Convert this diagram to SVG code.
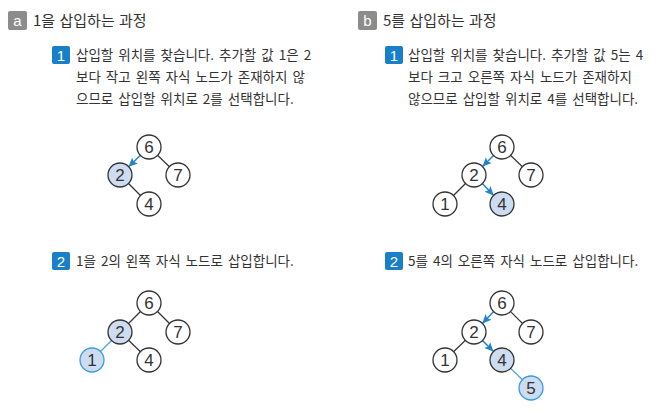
<svg xmlns="http://www.w3.org/2000/svg" width="658" height="419" viewBox="0 0 658 419">
<defs>
<style>
.t{font-family:"Noto Sans CJK KR","Liberation Sans",sans-serif;fill:#333;}
.h{font-size:15px;word-spacing:1px;}
.s{font-size:13.5px;word-spacing:2px;}
.lab{font-family:"Liberation Sans",sans-serif;fill:#fff;text-anchor:middle;}
.n circle{fill:#fff;stroke:#333;stroke-width:1.3;}
.n.hl circle{fill:#cddcf0;}
.n.new circle{fill:#cddcf0;stroke:#3a9be0;}
.n text{font-family:"Liberation Sans",sans-serif;font-size:17px;fill:#333;text-anchor:middle;}
.e{stroke:#333;stroke-width:1.2;}
.eb{stroke:#4aa6de;stroke-width:1.2;}
.ar{stroke:#1f82cc;stroke-width:1.5;fill:none;}
</style>
<marker id="ah" markerUnits="userSpaceOnUse" markerWidth="10" markerHeight="10" viewBox="0 0 10 10" refX="9" refY="5" orient="auto">
<path d="M0,0.8 L9,5 L0,9.2 L2,5 Z" fill="#1f82cc"/>
</marker>
</defs>
<rect width="658" height="419" fill="#fff"/>

<!-- headers -->
<g id="header-a">
<rect x="8" y="11" width="19" height="19" rx="2" fill="#8c8c8c"/>
<text class="lab" x="17.5" y="26" font-size="15">a</text>
<text class="t h" x="33" y="26">1을 삽입하는 과정</text>
</g>
<g id="header-b">
<rect x="358" y="11" width="19" height="19" rx="2" fill="#8c8c8c"/>
<text class="lab" x="367.5" y="26" font-size="15">b</text>
<text class="t h" x="383" y="26">5를 삽입하는 과정</text>
</g>

<!-- step texts -->
<g id="step-a1">
<rect x="52" y="46" width="18" height="18" rx="2" fill="#1a7fc9"/>
<text class="lab" x="61" y="61" font-size="15">1</text>
<text class="t s" x="76" y="60">삽입할 위치를 찾습니다. 추가할 값 1은 2</text>
<text class="t s" x="76" y="82">보다 작고 왼쪽 자식 노드가 존재하지 않</text>
<text class="t s" x="76" y="104">으므로 삽입할 위치로 2를 선택합니다.</text>
</g>
<g id="step-b1">
<rect x="385" y="46" width="18" height="18" rx="2" fill="#1a7fc9"/>
<text class="lab" x="394" y="61" font-size="15">1</text>
<text class="t s" x="408" y="60">삽입할 위치를 찾습니다. 추가할 값 5는 4</text>
<text class="t s" x="408" y="82">보다 크고 오른쪽 자식 노드가 존재하지</text>
<text class="t s" x="408" y="104">않으므로 삽입할 위치로 4를 선택합니다.</text>
</g>
<g id="step-a2">
<rect x="52" y="252" width="18" height="18" rx="2" fill="#1a7fc9"/>
<text class="lab" x="61" y="267" font-size="15">2</text>
<text class="t s" x="76" y="266">1을 2의 왼쪽 자식 노드로 삽입합니다.</text>
</g>
<g id="step-b2">
<rect x="385" y="252" width="18" height="18" rx="2" fill="#1a7fc9"/>
<text class="lab" x="394" y="267" font-size="15">2</text>
<text class="t s" x="408" y="266">5를 4의 오른쪽 자식 노드로 삽입합니다.</text>
</g>

<!-- connectors -->
<g id="connectors">
<!-- a1 -->
<line class="ar" x1="140.4" y1="155.3" x2="128.6" y2="166.7" marker-end="url(#ah)"/>
<line class="e" x1="149" y1="147" x2="178" y2="175"/>
<line class="e" x1="120" y1="175" x2="149" y2="204"/>
<!-- b1 -->
<line class="ar" x1="493.5" y1="155.5" x2="482.5" y2="166.5" marker-end="url(#ah)"/>
<line class="e" x1="502" y1="147" x2="531" y2="175"/>
<line class="e" x1="474" y1="175" x2="445" y2="204"/>
<line class="ar" x1="482.3" y1="183.6" x2="493.7" y2="195.4" marker-end="url(#ah)"/>
<!-- a2 -->
<line class="e" x1="149" y1="303" x2="120" y2="332"/>
<line class="e" x1="149" y1="303" x2="178" y2="332"/>
<line class="e" x1="120" y1="332" x2="149" y2="360"/>
<line class="eb" x1="120" y1="332" x2="92" y2="360"/>
<!-- b2 -->
<line class="ar" x1="493.7" y1="311.6" x2="482.3" y2="323.4" marker-end="url(#ah)"/>
<line class="e" x1="502" y1="303" x2="531" y2="332"/>
<line class="e" x1="474" y1="332" x2="445" y2="360"/>
<line class="ar" x1="482.5" y1="340.5" x2="493.5" y2="351.5" marker-end="url(#ah)"/>
<line class="eb" x1="502" y1="360" x2="531" y2="388"/>
</g>

<!-- a1 nodes -->
<g id="a1-n6" class="n"><circle cx="149" cy="147" r="12"/><text x="149" y="153">6</text></g>
<g id="a1-n2" class="n hl"><circle cx="120" cy="175" r="12"/><text x="120" y="181">2</text></g>
<g id="a1-n7" class="n"><circle cx="178" cy="175" r="12"/><text x="178" y="181">7</text></g>
<g id="a1-n4" class="n"><circle cx="149" cy="204" r="12"/><text x="149" y="210">4</text></g>

<!-- b1 nodes -->
<g id="b1-n6" class="n"><circle cx="502" cy="147" r="12"/><text x="502" y="153">6</text></g>
<g id="b1-n2" class="n"><circle cx="474" cy="175" r="12"/><text x="474" y="181">2</text></g>
<g id="b1-n7" class="n"><circle cx="531" cy="175" r="12"/><text x="531" y="181">7</text></g>
<g id="b1-n1" class="n"><circle cx="445" cy="204" r="12"/><text x="445" y="210">1</text></g>
<g id="b1-n4" class="n hl"><circle cx="502" cy="204" r="12"/><text x="502" y="210">4</text></g>

<!-- a2 nodes -->
<g id="a2-n6" class="n"><circle cx="149" cy="303" r="12"/><text x="149" y="309">6</text></g>
<g id="a2-n2" class="n hl"><circle cx="120" cy="332" r="12"/><text x="120" y="338">2</text></g>
<g id="a2-n7" class="n"><circle cx="178" cy="332" r="12"/><text x="178" y="338">7</text></g>
<g id="a2-n1" class="n new"><circle cx="92" cy="360" r="12"/><text x="92" y="366">1</text></g>
<g id="a2-n4" class="n"><circle cx="149" cy="360" r="12"/><text x="149" y="366">4</text></g>

<!-- b2 nodes -->
<g id="b2-n6" class="n"><circle cx="502" cy="303" r="12"/><text x="502" y="309">6</text></g>
<g id="b2-n2" class="n"><circle cx="474" cy="332" r="12"/><text x="474" y="338">2</text></g>
<g id="b2-n7" class="n"><circle cx="531" cy="332" r="12"/><text x="531" y="338">7</text></g>
<g id="b2-n1" class="n"><circle cx="445" cy="360" r="12"/><text x="445" y="366">1</text></g>
<g id="b2-n4" class="n hl"><circle cx="502" cy="360" r="12"/><text x="502" y="366">4</text></g>
<g id="b2-n5" class="n new"><circle cx="531" cy="388" r="12"/><text x="531" y="394">5</text></g>
</svg>
